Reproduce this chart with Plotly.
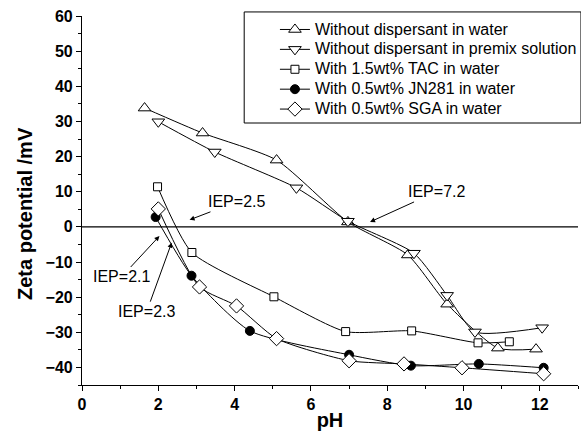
import plotly.graph_objects as go

# ---- data ----
names = [
    "Without dispersant in water",
    "Without dispersant in premix solution",
    "With 1.5wt% TAC in water",
    "With 0.5wt% JN281 in water",
    "With 0.5wt% SGA in water",
]

water_x = [1.64, 3.16, 5.1, 6.97, 8.54, 9.57, 10.9, 11.9]
water_y = [33.8, 26.7, 19.0, 1.4, -8.0, -22.0, -34.5, -34.8]

premix_x = [2.0, 3.48, 5.62, 6.97, 8.70, 9.57, 10.3, 12.06]
premix_y = [29.9, 21.3, 11.1, 1.6, -7.5, -19.5, -29.9, -28.7]

tac_x = [1.98, 2.88, 5.03, 6.91, 8.64, 10.38, 11.2]
tac_y = [11.4, -7.3, -19.9, -29.8, -29.6, -33.0, -32.7]

jn_x = [1.93, 2.87, 4.4, 7.0, 8.62, 10.4, 12.1]
jn_y = [2.8, -13.9, -29.6, -36.4, -39.5, -39.0, -40.1]

sga_x = [2.0, 3.08, 4.05, 5.1, 7.0, 8.44, 9.96, 12.1]
sga_y = [5.1, -17.1, -22.5, -31.8, -38.1, -39.0, -40.1, -41.8]

iep_labels = ["IEP=2.5", "IEP=2.1", "IEP=2.3", "IEP=7.2"]
iep_tip_x = [2.82, 2.03, 2.35, 7.55]
iep_tip_y = [2.0, -2.6, -4.5, 1.4]

x_ticks = [0, 2, 4, 6, 8, 10, 12]
y_ticks = [-40, -30, -20, -10, 0, 10, 20, 30, 40, 50, 60]

x_title = "pH"
y_title = "Zeta potential /mV"

# ---- styles ----
series = [
    (water_x, water_y, "triangle-up", "white", 11),
    (premix_x, premix_y, "triangle-down", "white", 11),
    (tac_x, tac_y, "square", "white", 8),
    (jn_x, jn_y, "circle", "black", 9),
    (sga_x, sga_y, "diamond", "white", 11),
]

FONT = "Liberation Sans, Arial"

fig = go.Figure()
for name, (xs, ys, sym, fill, size) in zip(names, series):
    fig.add_trace(go.Scatter(
        x=xs, y=ys, name='<span style="font-size:16px">' + name + '</span>',
        mode="lines+markers",
        line=dict(color="black", width=1, shape="spline", smoothing=0.6),
        marker=dict(symbol=sym, color=fill, size=size,
                    line=dict(color="black", width=1)),
    ))

fig.add_hline(y=0, line=dict(color="black", width=1.2), layer="below")

# IEP annotations
offsets = [(47, -18), (-38, 41), (-25, 69), (66, -30)]
for lab, tx, ty, (ax, ay) in zip(iep_labels, iep_tip_x, iep_tip_y, offsets):
    fig.add_annotation(
        x=tx, y=ty, text=lab, showarrow=True, ax=ax, ay=ay,
        arrowhead=2, arrowsize=1, arrowwidth=1, arrowcolor="black",
        font=dict(family=FONT, size=16, color="black"),
    )

# y-axis title (placed as in the reference, slightly below centre)
fig.add_annotation(
    text="<b>" + y_title + "</b>", textangle=-90, showarrow=False,
    xref="paper", yref="paper", x=-0.115, y=0.466,
    xanchor="center", yanchor="middle",
    font=dict(family=FONT, size=20, color="black"),
)

# legend frame
fig.add_shape(type="rect", xref="paper", yref="paper",
              x0=0.327, x1=1.006, y0=0.710, y1=1.011,
              line=dict(color="black", width=1), fillcolor="rgba(0,0,0,0)")

axis_common = dict(
    showline=True, linecolor="black", linewidth=1.2,
    ticks="outside", ticklen=5, tickwidth=1, tickcolor="black",
    showgrid=False, zeroline=False, mirror=False,
    tickfont=dict(family=FONT, size=16, color="black", weight="bold"),
)

fig.update_xaxes(
    range=[0, 13], tickvals=x_ticks,
    minor=dict(dtick=1, ticks="outside", ticklen=3, tickcolor="black"),
    title=dict(text="<b>" + x_title + "</b>", standoff=0,
               font=dict(family=FONT, size=20, color="black")),
    **axis_common,
)
fig.update_yaxes(
    range=[-45, 60], tickvals=y_ticks,
    minor=dict(dtick=5, ticks="outside", ticklen=3, tickcolor="black"),
    **axis_common,
)

fig.update_layout(
    width=581, height=433,
    margin=dict(l=82, r=3, t=16, b=48, autoexpand=False),
    paper_bgcolor="white", plot_bgcolor="white",
    showlegend=True,
    legend=dict(x=0.389, xanchor="left", y=1.004, yanchor="top",
                bgcolor="rgba(0,0,0,0)", borderwidth=0, tracegroupgap=0,
                font=dict(family=FONT, size=13, color="black")),
)

fig.write_html("out.html")
